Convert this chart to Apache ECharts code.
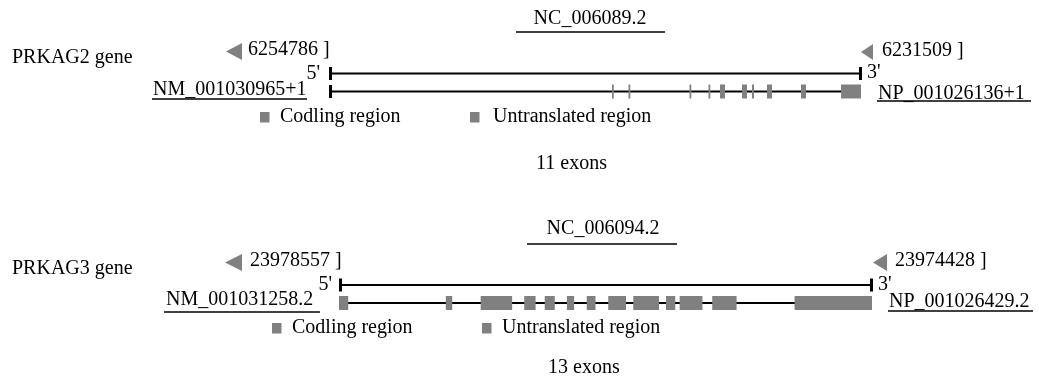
<!DOCTYPE html>
<html><head><meta charset="utf-8">
<script src="https://cdn.jsdelivr.net/npm/echarts@6/dist/echarts.min.js"></script>
<style>html,body{margin:0;padding:0;background:#fff}#c{width:1039px;height:378px}</style>
</head><body><div id="c"></div>
<script>
// ---------- data ----------
const geneNames = ['PRKAG2 gene', 'PRKAG3 gene'];
const contigs = ['NC_006089.2', 'NC_006094.2'];
const transcripts = ['NM_001030965+1', 'NM_001031258.2'];
const proteins = ['NP_001026136+1', 'NP_001026429.2'];
const startCoords = [6254786, 23978557];
const endCoords = [6231509, 23974428];
const exonLabels = ['11 exons', '13 exons'];
const legendLabels = ['Codling region', 'Untranslated region'];
// exons as [start, end], bp from the 5' end of the gene
const exonsPRKAG2 = [[12362, 12428], [13085, 13151], [15759, 15825], [16592, 16658],
  [17096, 17315], [18060, 18280], [18499, 18586], [19156, 19376], [20647, 20866], [22400, 23277]];
const exonsPRKAG3 = [[0, 64], [821, 871], [1092, 1336], [1430, 1518], [1589, 1667],
  [1761, 1817], [1915, 1983], [2082, 2220], [2276, 2476], [2530, 2602], [2636, 2813],
  [2889, 3078], [3528, 4129]];
const exonSets = [exonsPRKAG2, exonsPRKAG3];

// ---------- layout ----------
const FONT = '20px "Liberation Serif", "Times New Roman", serif';
const GRAY = '#808080';
const layouts = [
  { grid: {left: 330, top: 73.5, width: 531, height: 18},
    name: [12, 58], contig: [590, 19], contigLine: [516, 665, 32],
    startTri: [226, 242, 43, 60], startTxt: [248, 50],
    endTri: [861, 873, 44, 60], endTxt: [882, 51],
    five: [320, 74], three: [867, 73],
    tx: [153, 90], txLine: [152, 307, 99],
    pr: [878, 93.5], prLine: [877, 1031, 101],
    leg: [260, 112, 280, 470, 493, 117], exons: [536, 164] },
  { grid: {left: 340, top: 285, width: 532, height: 18},
    name: [12, 269], contig: [603, 229], contigLine: [527, 677, 244],
    startTri: [225, 242, 254, 271], startTxt: [250, 261],
    endTri: [873, 887, 254, 271], endTxt: [895, 261],
    five: [332, 285], three: [878, 285],
    tx: [166, 300], txLine: [164, 320, 312],
    pr: [889, 302], prLine: [888, 1033, 311],
    leg: [272, 323, 292, 482, 502, 328], exons: [548, 368] }
];

function txt(text, x, y, align) {
  return { type: 'text', z: 10, style: { text: text, x: x, y: y, font: FONT, fill: '#000',
    textAlign: align || 'left', textVerticalAlign: 'middle',
    align: align || 'left', verticalAlign: 'middle' } };
}
function hline(x1, x2, y, w) {
  return { type: 'line', z: 10, shape: {x1: x1, y1: y, x2: x2, y2: y}, style: {stroke: '#000', lineWidth: w || 1.5} };
}
function tri(t) {
  const mid = (t[2] + t[3]) / 2;
  return { type: 'polygon', z: 10, shape: { points: [[t[0], mid], [t[1], t[2]], [t[1], t[3]]] }, style: { fill: GRAY } };
}

const graphics = [];
layouts.forEach(function (L, i) {
  graphics.push(txt(geneNames[i], L.name[0], L.name[1]));
  graphics.push(txt(contigs[i], L.contig[0], L.contig[1], 'center'));
  graphics.push(hline(L.contigLine[0], L.contigLine[1], L.contigLine[2]));
  graphics.push(tri(L.startTri));
  graphics.push(txt(startCoords[i] + ' ]', L.startTxt[0], L.startTxt[1]));
  graphics.push(tri(L.endTri));
  graphics.push(txt(endCoords[i] + ' ]', L.endTxt[0], L.endTxt[1]));
  graphics.push(txt("5'", L.five[0], L.five[1], 'right'));
  graphics.push(txt("3'", L.three[0], L.three[1]));
  graphics.push(txt(transcripts[i], L.tx[0], L.tx[1]));
  graphics.push(hline(L.txLine[0], L.txLine[1], L.txLine[2]));
  graphics.push(txt(proteins[i], L.pr[0], L.pr[1]));
  graphics.push(hline(L.prLine[0], L.prLine[1], L.prLine[2]));
  graphics.push({ type: 'rect', z: 10, shape: {x: L.leg[0], y: L.leg[1], width: 9.5, height: 10.5}, style: {fill: GRAY} });
  graphics.push(txt(legendLabels[0], L.leg[2], L.leg[5]));
  graphics.push({ type: 'rect', z: 10, shape: {x: L.leg[3], y: L.leg[1], width: 9.5, height: 10.5}, style: {fill: GRAY} });
  graphics.push(txt(legendLabels[1], L.leg[4], L.leg[5]));
  graphics.push(txt(exonLabels[i], L.exons[0], L.exons[1]));
});

function spanItem(params, api) {
  const a = api.coord([api.value(0), 1]);
  const b = api.coord([api.value(1), 1]);
  return { type: 'group', children: [
    { type: 'line', shape: {x1: a[0], y1: a[1], x2: b[0], y2: b[1]}, style: {stroke: '#000', lineWidth: 2} },
    { type: 'rect', shape: {x: a[0] - 1, y: a[1] - 6.5, width: 3, height: 13}, style: {fill: '#000'} },
    { type: 'rect', shape: {x: b[0] - 2, y: b[1] - 6.5, width: 3, height: 13}, style: {fill: '#000'} }
  ]};
}
function backboneItem(params, api) {
  const a = api.coord([api.value(0), 0]);
  const b = api.coord([api.value(1), 0]);
  return { type: 'group', children: [
    { type: 'line', shape: {x1: a[0], y1: a[1], x2: b[0], y2: b[1]}, style: {stroke: '#000', lineWidth: 2} },
    { type: 'rect', shape: {x: a[0] - 1, y: a[1] - 6.5, width: 3, height: 13}, style: {fill: '#000'} }
  ]};
}
function exonItem(params, api) {
  const a = api.coord([api.value(0), 0]);
  const b = api.coord([api.value(1), 0]);
  const x0 = api.value(0) === 0 ? a[0] - 1 : a[0];
  const w = Math.max(b[0] - x0, 1.8);
  return { type: 'rect', shape: {x: x0, y: a[1] - 7, width: w, height: 14}, style: {fill: GRAY} };
}

const grids = [], xAxes = [], yAxes = [], series = [];
layouts.forEach(function (L, i) {
  const len = startCoords[i] - endCoords[i];
  grids.push(L.grid);
  xAxes.push({ type: 'value', gridIndex: i, min: 0, max: len, show: false });
  yAxes.push({ type: 'value', gridIndex: i, min: 0, max: 1, show: false });
  series.push({ type: 'custom', xAxisIndex: i, yAxisIndex: i, renderItem: spanItem, data: [[0, len]], silent: true, z: 2 });
  series.push({ type: 'custom', xAxisIndex: i, yAxisIndex: i, renderItem: backboneItem, data: [[0, len]], silent: true, z: 2 });
  series.push({ type: 'custom', name: legendLabels[0], xAxisIndex: i, yAxisIndex: i, renderItem: exonItem, data: exonSets[i], silent: true, z: 3 });
});

const chart = echarts.init(document.getElementById('c'), null, {renderer: 'canvas'});
chart.setOption({
  animation: false,
  backgroundColor: '#fff',
  grid: grids, xAxis: xAxes, yAxis: yAxes, series: series,
  graphic: graphics
});
</script></body></html>
